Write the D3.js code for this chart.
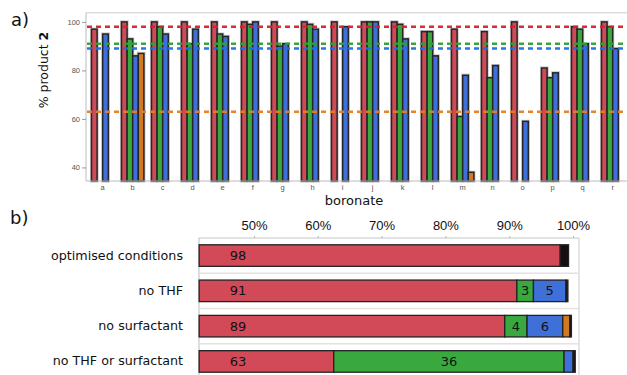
<!DOCTYPE html>
<html>
<head>
<meta charset="utf-8">
<script src="https://cdn.jsdelivr.net/npm/d3@7"></script>
<style>
  body { margin: 0; background: #fff; }
  svg { display: block; font-family: "DejaVu Sans", Verdana, sans-serif; }
</style>
</head>
<body>
<svg width="627" height="375"></svg>
<script>
var svg = d3.select('svg');

// ---- panel a data ----
var boronates = ['a','b','c','d','e','f','g','h','i','j','k','l','m','n','o','p','q','r'];
var optimised    = [97, 100, 100, 100, 100, 100, 100, 100, 100, 100, 100, 96, 97, 96, 100, 81, 98, 100];
var noTHF        = [null, 93, 98, 91, 95, 99, 90, 99, null, 100, 99, 96, 61, 77, null, 77, 97, 98];
var noSurfactant = [95, 86, 95, 97, 94, 100, 91, 97, 98, 100, 93, 86, 78, 82, 59, 79, 91, 89];
var noTHFnoSurf  = [null, 87, null, null, null, null, null, null, null, null, null, null, 38, null, null, null, null, null];
var baselines = [98, 91, 89, 63];
var yTicks = [40, 60, 80, 100];

// ---- panel b data ----
var conditions = ['optimised conditions', 'no THF', 'no surfactant', 'no THF or surfactant'];
var product2  = [98, 91.2, 89.3, 62.5];
var sideGreen = [0, 2.6, 3.5, 36.1];
var sideBlue  = [0, 5.1, 5.6, 1.4];
var sideOrange = [0, 0, 1.1, 0];
var other     = [1.3, 0.3, 0.25, 0.35];
var pctTicks = [50, 60, 70, 80, 90, 100];

var colors = ['#d24a58', '#39a83f', '#3f6fd9', '#d17a22', '#1a0d0d'];
var lineColors = ['#d9202f', '#2ea136', '#1f6fe6', '#e67e22'];

// ================= panel a =================
var series = [optimised, noTHF, noSurfactant, noTHFnoSurf];
var y = d3.scaleLinear().domain([34.4, 103.8]).range([181, 12.7]);
var x0 = d3.scaleBand().domain(boronates).range([87.7, 627.7]);
var x1 = d3.scaleBand().domain([0, 1, 2, 3]).range([0, 22.4]);
var groupOff = (x0.step() - 22.4) / 2;

// frame
svg.append('line').attr('x1', 86).attr('x2', 627).attr('y1', 12.7).attr('y2', 12.7)
  .attr('stroke', '#ddd').attr('stroke-width', 1.5);

var yAxis = svg.append('g').attr('transform', 'translate(86,0)')
  .call(d3.axisLeft(y).tickValues(yTicks).tickSize(4).tickPadding(2));
yAxis.select('.domain').attr('stroke', '#bbb').attr('d', 'M0,12.7V181');
yAxis.selectAll('.tick line').attr('stroke', '#999');
yAxis.selectAll('.tick text').attr('fill', '#555').style('font-size', '7.5px');

// bars
var groups = svg.append('g').selectAll('g').data(boronates).enter().append('g')
  .attr('transform', function(d) { return 'translate(' + (x0(d) + groupOff) + ',0)'; });

groups.each(function(c, ci) {
  var g = d3.select(this);
  series.forEach(function(s, si) {
    var v = s[ci];
    if (v == null) return;
    g.append('rect')
      .attr('x', x1(si)).attr('width', x1.bandwidth())
      .attr('y', y(v)).attr('height', 181 - y(v))
      .attr('fill', 'none').attr('stroke', '#c8c8c8').attr('stroke-width', 3.2);
  });
  series.forEach(function(s, si) {
    var v = s[ci];
    if (v == null) return;
    g.append('rect')
      .attr('x', x1(si)).attr('width', x1.bandwidth())
      .attr('y', y(v)).attr('height', 181 - y(v))
      .attr('fill', colors[si]).attr('stroke', '#262626').attr('stroke-width', 1.5);
  });
});

// dashed reference lines
svg.append('g').selectAll('line').data(baselines).enter().append('line')
  .attr('x1', 87).attr('x2', 627)
  .attr('y1', function(d) { return y(d); }).attr('y2', function(d) { return y(d); })
  .attr('stroke', function(d, i) { return lineColors[i]; })
  .attr('stroke-width', 2.5)
  .attr('stroke-dasharray', '5,4')
  .attr('opacity', 0.95);

// bottom axis
var xAxis = svg.append('g').attr('transform', 'translate(0,181)')
  .call(d3.axisBottom(x0).tickSize(0).tickPadding(4));
xAxis.select('.domain').attr('stroke', '#bbb').attr('d', 'M86,0H627');
xAxis.selectAll('.tick text').attr('fill', '#555').style('font-size', '7.5px');

svg.append('text').attr('x', 354).attr('y', 205).attr('text-anchor', 'middle')
  .style('font-size', '13px').attr('fill', '#111').text('boronate');

var ylab = svg.append('text').attr('transform', 'translate(48,70) rotate(-90)')
  .attr('text-anchor', 'middle').style('font-size', '12.5px').attr('fill', '#111');
ylab.append('tspan').text('% product ');
ylab.append('tspan').attr('font-weight', 'bold').text('2');

svg.append('text').attr('x', 11).attr('y', 26).style('font-size', '18px').attr('fill', '#111').text('a)');

// ================= panel b =================
var xb = d3.scaleLinear().domain([50, 100]).range([254, 573]);
var xStart = 41.4;
var yb = d3.scaleBand().domain(conditions).range([237.9, 379.1])
  .paddingInner(0.39).paddingOuter(0.195);

svg.append('text').attr('x', 10).attr('y', 224).style('font-size', '18px').attr('fill', '#111').text('b)');

// frame
svg.append('line').attr('x1', 199).attr('x2', 579).attr('y1', 238).attr('y2', 238)
  .attr('stroke', '#d8d8d8').attr('stroke-width', 1.5);
svg.append('line').attr('x1', 199).attr('x2', 199).attr('y1', 238).attr('y2', 375)
  .attr('stroke', '#bbb').attr('stroke-width', 1);
svg.append('line').attr('x1', 579).attr('x2', 579).attr('y1', 238).attr('y2', 375)
  .attr('stroke', '#ddd').attr('stroke-width', 1.5);

// row separators
conditions.slice(0, 3).forEach(function(c) {
  var yy = yb(c) + yb.bandwidth() + (yb.step() - yb.bandwidth()) / 2;
  svg.append('line').attr('x1', 199).attr('x2', 579).attr('y1', yy).attr('y2', yy)
    .attr('stroke', '#e2e2e2').attr('stroke-width', 1.5);
});

var topAxis = svg.append('g').attr('transform', 'translate(0,238)')
  .call(d3.axisTop(xb).tickValues(pctTicks).tickSize(2).tickPadding(6)
    .tickFormat(function(d) { return d + '%'; }));
topAxis.select('.domain').remove();
topAxis.selectAll('.tick line').attr('stroke', '#bbb');
topAxis.selectAll('.tick text').attr('fill', '#111').style('font-size', '13px');

var segSeries = [product2, sideGreen, sideBlue, sideOrange, other];
conditions.forEach(function(c, ri) {
  var acc = xStart;
  segSeries.forEach(function(s, si) {
    var v = s[ri];
    if (!v) return;
    var start = si === 0 ? xStart : acc;
    var end = si === 0 ? v : acc + v;
    svg.append('rect')
      .attr('x', xb(start)).attr('width', xb(end) - xb(start))
      .attr('y', yb(c)).attr('height', yb.bandwidth())
      .attr('fill', colors[si]).attr('stroke', '#222').attr('stroke-width', 1.3);
    if (si < 3 && v >= 2) {
      var lx = si === 0 ? xb(start) + 39 : (xb(start) + xb(end)) / 2;
      svg.append('text').attr('x', lx).attr('y', yb(c) + yb.bandwidth() / 2 + 4.5)
        .attr('text-anchor', 'middle').style('font-size', '13px').attr('fill', '#111')
        .text(Math.round(v));
    }
    acc = end;
  });
});

svg.append('g').selectAll('text').data(conditions).enter().append('text')
  .attr('x', 183).attr('y', function(d) { return yb(d) + yb.bandwidth() / 2 + 4; })
  .attr('text-anchor', 'end').style('font-size', '12.7px').attr('fill', '#111')
  .text(function(d) { return d; });
</script>
</body>
</html>
